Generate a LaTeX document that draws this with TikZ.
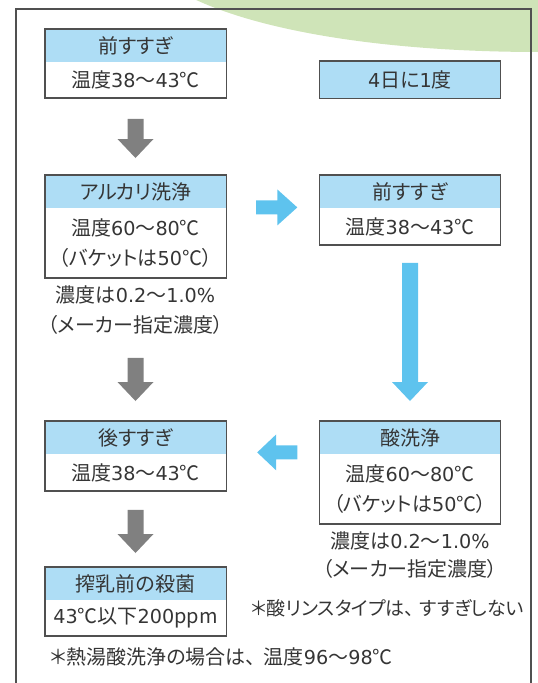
\documentclass[tikz,border=0pt]{standalone}
\usepackage{fontspec}
\setmainfont[RawFeature=+palt]{Noto Sans CJK JP}
\newfontfamily\numfont[Scale=0.96]{DejaVu Sans}
\newcommand\nm[1]{{\numfont #1}}
\usetikzlibrary{calc}
\definecolor{hdrblue}{HTML}{AEDDF5}
\definecolor{arrblue}{HTML}{5EC3EE}
\definecolor{arrgray}{HTML}{808080}
\definecolor{leaf}{HTML}{CFE4B8}
\definecolor{txt}{HTML}{353535}
\definecolor{framegray}{HTML}{505050}
\newcommand\blockarr[6]{%
  \coordinate (tmpH) at ($(#3)!#6!(#2)$);
  \fill[#1] ($(#2)!#4!90:(#3)$) -- ($(tmpH)!#4!90:(#3)$) -- ($(tmpH)!#5!90:(#3)$) -- (#3)
    -- ($(tmpH)!#5!-90:(#3)$) -- ($(tmpH)!#4!-90:(#3)$) -- ($(#2)!#4!-90:(#3)$) -- cycle;
}
\tikzset{
  txtfont/.style={font=\fontsize{20pt}{30pt}\selectfont},
  hdr/.style={fill=hdrblue, minimum width=181pt, minimum height=33pt, inner sep=0pt, anchor=north, text=txt, txtfont},
  bodyrow/.style={minimum width=181pt, inner sep=0pt, anchor=north, text=txt, align=center, txtfont},
  boxline/.style={draw=framegray, line width=1.4pt},
  note/.style={text=txt, inner sep=0pt, txtfont},
  smallnote/.style={note, font=\fontsize{19pt}{30pt}\selectfont},
  grayarr/.style={fill=arrgray},
  bluearr/.style={fill=arrblue},
  framestyle/.style={draw=framegray, line width=1.5pt}
}
\begin{document}
\begin{tikzpicture}[x=1pt,y=-1pt]
\useasboundingbox (0,0) rectangle (538,683);
\clip (0,0) rectangle (538,683);
\fill[leaf] (192,-2) .. controls (258,30) and (380,52) .. (540,52) -- (540,-2) -- cycle;
\draw[framestyle] (16,700) -- (16,9) -- (531,9) -- (531,700);

% left column
\node[hdr] (p1h) at (135.5,29) {前すすぎ};
\node[bodyrow, minimum height=35pt] (p1b) at (p1h.south) {温度\nm{38}〜\nm{43}℃};
\draw[boxline] (p1h.north west) rectangle (p1b.south east);

\node[hdr] (alh) at (135.5,175) {アルカリ洗浄};
\node[bodyrow, minimum height=69pt] (alb) at (alh.south) {温度\nm{60}〜\nm{80}℃\\（バケットは\nm{50}℃）};
\draw[boxline] (alh.north west) rectangle (alb.south east);
\node[note] (aln1) at (135.5,295) {濃度は\nm{0.2}〜\nm{1.0\%}};
\node[note] (aln2) at (135.5,325) {（メーカー指定濃度）};

\node[hdr] (ath) at (135.5,421) {後すすぎ};
\node[bodyrow, minimum height=36pt] (atb) at (ath.south) {温度\nm{38}〜\nm{43}℃};
\draw[boxline] (ath.north west) rectangle (atb.south east);

\node[hdr] (sth) at (135.5,567) {搾乳前の殺菌};
\node[bodyrow, minimum height=35pt] (stb) at (sth.south) {\nm{43}℃以下\nm{200}ppm};
\draw[boxline] (sth.north west) rectangle (stb.south east);

% right column
\node[hdr, minimum height=37pt] (freq) at (410,61) {\nm{4}日に\nm{1}度};
\draw[boxline] (freq.north west) rectangle (freq.south east);

\node[hdr] (p2h) at (410,175) {前すすぎ};
\node[bodyrow, minimum height=36pt] (p2b) at (p2h.south) {温度\nm{38}〜\nm{43}℃};
\draw[boxline] (p2h.north west) rectangle (p2b.south east);

\node[hdr] (sah) at (410,421) {酸洗浄};
\node[bodyrow, minimum height=69pt] (sab) at (sah.south) {温度\nm{60}〜\nm{80}℃\\（バケットは\nm{50}℃）};
\draw[boxline] (sah.north west) rectangle (sab.south east);
\node[note] (san1) at (410,541) {濃度は\nm{0.2}〜\nm{1.0\%}};
\node[note] (san2) at (410,569) {（メーカー指定濃度）};

\node[smallnote, anchor=west] (rinse) at (251,608) {＊酸リンスタイプは、\hspace{0.3em}すすぎしない};
\node[note, anchor=west] (hot) at (50,657) {＊熱湯酸洗浄の場合は、\hspace{0.4em}温度\nm{96}〜\nm{98}℃};

% gray arrows
\coordinate (g1s) at ([yshift=-21pt]p1b.south);
\coordinate (g1e) at ([yshift=17pt]alh.north);
\blockarr{grayarr}{g1s}{g1e}{8pt}{18pt}{19pt}
\coordinate (g2s) at ([yshift=-80pt]alb.south);
\coordinate (g2e) at ([yshift=20pt]ath.north);
\blockarr{grayarr}{g2s}{g2e}{8pt}{18pt}{19pt}
\coordinate (g3s) at ([yshift=-19pt]atb.south);
\coordinate (g3e) at ([yshift=14pt]sth.north);
\blockarr{grayarr}{g3s}{g3e}{8pt}{18pt}{19pt}

% blue arrows
\coordinate (b1s) at ([xshift=30pt,yshift=1pt]alh.south east);
\coordinate (b1e) at ([xshift=-22pt,yshift=1pt]p2h.south west);
\blockarr{bluearr}{b1s}{b1e}{7pt}{18pt}{20pt}
\coordinate (b2s) at ([yshift=-18pt]p2b.south);
\coordinate (b2e) at ([yshift=20pt]sah.north);
\blockarr{bluearr}{b2s}{b2e}{8pt}{18pt}{19pt}
\coordinate (b3s) at ([xshift=-22pt,yshift=2pt]sah.south west);
\coordinate (b3e) at ([xshift=31pt,yshift=2pt]ath.south east);
\blockarr{bluearr}{b3s}{b3e}{7pt}{18pt}{19pt}
\end{tikzpicture}
\end{document}
